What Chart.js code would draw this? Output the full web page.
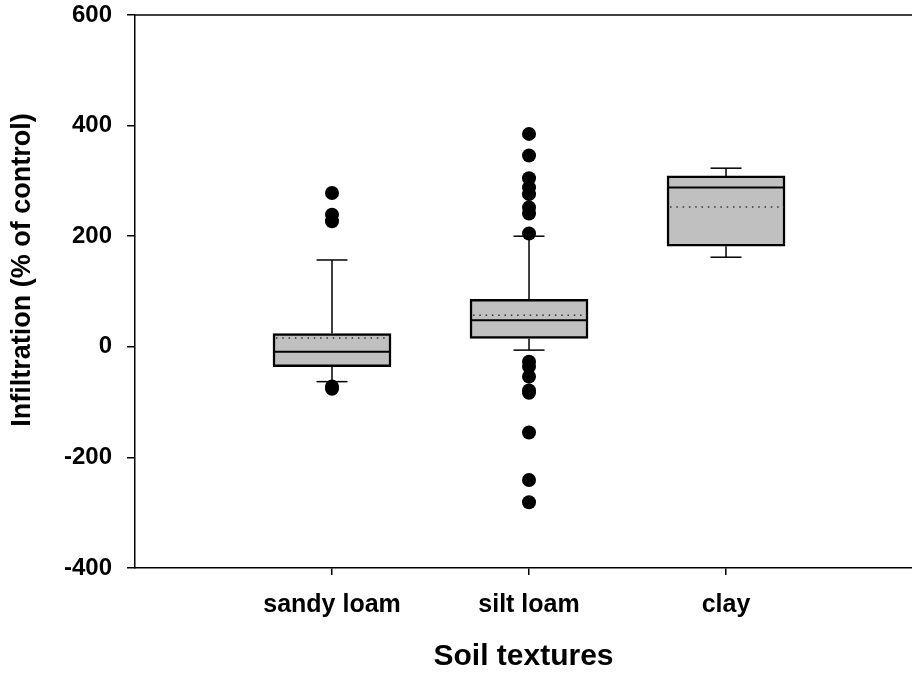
<!DOCTYPE html>
<html>
<head>
<meta charset="utf-8">
<script src="https://cdn.jsdelivr.net/npm/chart.js@4.4.1/dist/chart.umd.min.js"></script>
<style>
  html, body { margin: 0; padding: 0; background: #fff; }
  #wrap { width: 912px; height: 674px; }
</style>
</head>
<body>
<div id="wrap"><canvas id="myChart" width="912" height="674"></canvas></div>
<script>
// box plot values
const categories = ['sandy loam', 'silt loam', 'clay'];
const q1Values = [-36, 15, 182];
const q3Values = [24, 86, 309];
const medianValues = [-9, 48, 288];
const meanValues = [16, 57, 253];
const whiskerLow = [-63, -6, 162];
const whiskerHigh = [157, 200, 323];
const outlierValues = [
  [278, 239, 227, -72, -76],
  [385, 346, 305, 288, 276, 252, 241, 205, -27, -36, -54, -79, -83, -155, -241, -281],
  []
];
const yTicks = [-400, -200, 0, 200, 400, 600];
const yTitle = 'Infiltration (% of control)';
const xTitle = 'Soil textures';

const FONT = "'Liberation Sans', Arial, Helvetica, sans-serif";

const boxData = categories.map((c, i) => ({ x: i + 1, y: [q1Values[i], q3Values[i]] }));
const outlierData = [];
outlierValues.forEach((list, i) => list.forEach(v => outlierData.push({ x: i + 1, y: v })));

// whiskers, caps, median and mean lines drawn through the scales
const boxLines = {
    id: 'boxLines',
    afterDatasetDraw(chart, args) {
        if (args.index !== 0) return;
        const { ctx, scales: { x, y } } = chart;
        const meta = chart.getDatasetMeta(0);
        ctx.save();
        ctx.strokeStyle = '#000';
        ctx.lineWidth = 1.5;
        categories.forEach((c, i) => {
            const cx = x.getPixelForValue(i + 1);
            const half = meta.data[i].width / 2;
            const capHalf = 15.5;
            const seg = (x0, y0, x1, y1) => {
                ctx.beginPath(); ctx.moveTo(x0, y0); ctx.lineTo(x1, y1); ctx.stroke();
            };
            const yHi = y.getPixelForValue(whiskerHigh[i]);
            const yLo = y.getPixelForValue(whiskerLow[i]);
            seg(cx, y.getPixelForValue(q3Values[i]), cx, yHi);
            seg(cx - capHalf, yHi, cx + capHalf, yHi);
            seg(cx, y.getPixelForValue(q1Values[i]), cx, yLo);
            seg(cx - capHalf, yLo, cx + capHalf, yLo);
            // median
            ctx.lineWidth = 2;
            const ym = y.getPixelForValue(medianValues[i]);
            seg(cx - half + 1, ym, cx + half - 1, ym);
            ctx.lineWidth = 1.5;
            // mean, dotted
            ctx.save();
            ctx.setLineDash([1.5, 4.8]);
            ctx.strokeStyle = '#333';
            const ya = y.getPixelForValue(meanValues[i]);
            seg(cx - half + 3, ya, cx + half - 1, ya);
            ctx.restore();
        });
        ctx.restore();
    },
    afterDraw(chart) {
        const { ctx, chartArea } = chart;
        ctx.save();
        // top frame line
        ctx.strokeStyle = '#000';
        ctx.lineWidth = 1.5;
        ctx.beginPath();
        ctx.moveTo(chartArea.left, chartArea.top);
        ctx.lineTo(chartArea.right, chartArea.top);
        ctx.stroke();
        // y axis title
        ctx.translate(23, 270);
        ctx.rotate(-Math.PI / 2);
        ctx.font = 'bold 27px ' + FONT;
        ctx.fillStyle = '#000';
        ctx.textAlign = 'center';
        ctx.textBaseline = 'middle';
        ctx.fillText(yTitle, 0, 0);
        ctx.restore();
    }
};

new Chart(document.getElementById('myChart').getContext('2d'), {
    type: 'bar',
    data: {
        datasets: [{
            type: 'bar',
            data: boxData,
            backgroundColor: '#c0c0c0',
            borderColor: '#000',
            borderWidth: 2.5,
            borderSkipped: false,
            barThickness: 118,
            order: 1
        }, {
            type: 'scatter',
            data: outlierData,
            backgroundColor: '#000',
            borderColor: '#000',
            borderWidth: 0,
            pointRadius: 7,
            order: 0
        }]
    },
    options: {
        responsive: false,
        animation: false,
        devicePixelRatio: 1,
        layout: { autoPadding: false, padding: { top: 15, right: 0, bottom: 0, left: 0 } },
        plugins: { legend: { display: false }, tooltip: { enabled: false } },
        scales: {
            x: {
                type: 'linear',
                min: 0,
                max: 3.944,
                offset: false,
                afterBuildTicks: s => { s.ticks = categories.map((c, i) => ({ value: i + 1 })); },
                afterFit: s => {
                    s.height = 106;
                    s.paddingLeft = 0; s.paddingRight = 0;
                },
                ticks: {
                    autoSkip: false,
                    maxRotation: 0,
                    padding: 15,
                    color: '#000',
                    font: { family: FONT, size: 25, weight: 'bold' },
                    callback: v => categories[v - 1]
                },
                grid: { offset: false, drawOnChartArea: false, tickLength: 7, color: '#000', lineWidth: 1.5 },
                border: { color: '#000', width: 1.5 },
                title: {
                    display: true,
                    text: xTitle,
                    color: '#000',
                    padding: { top: 0, bottom: -1 },
                    font: { family: FONT, size: 30, weight: 'bold' }
                }
            },
            y: {
                min: -400,
                max: 600,
                afterBuildTicks: s => { s.ticks = yTicks.map(v => ({ value: v })); },
                afterFit: s => {
                    s.width = 135;
                    s.paddingTop = 0; s.paddingBottom = 0;
                },
                ticks: {
                    padding: 15,
                    color: '#000',
                    font: { family: FONT, size: 24, weight: 'bold' }
                },
                grid: { drawOnChartArea: false, tickLength: 8, color: '#000', lineWidth: 1.5 },
                border: { color: '#000', width: 1.5 }
            }
        }
    },
    plugins: [boxLines]
});
</script>
</body>
</html>
